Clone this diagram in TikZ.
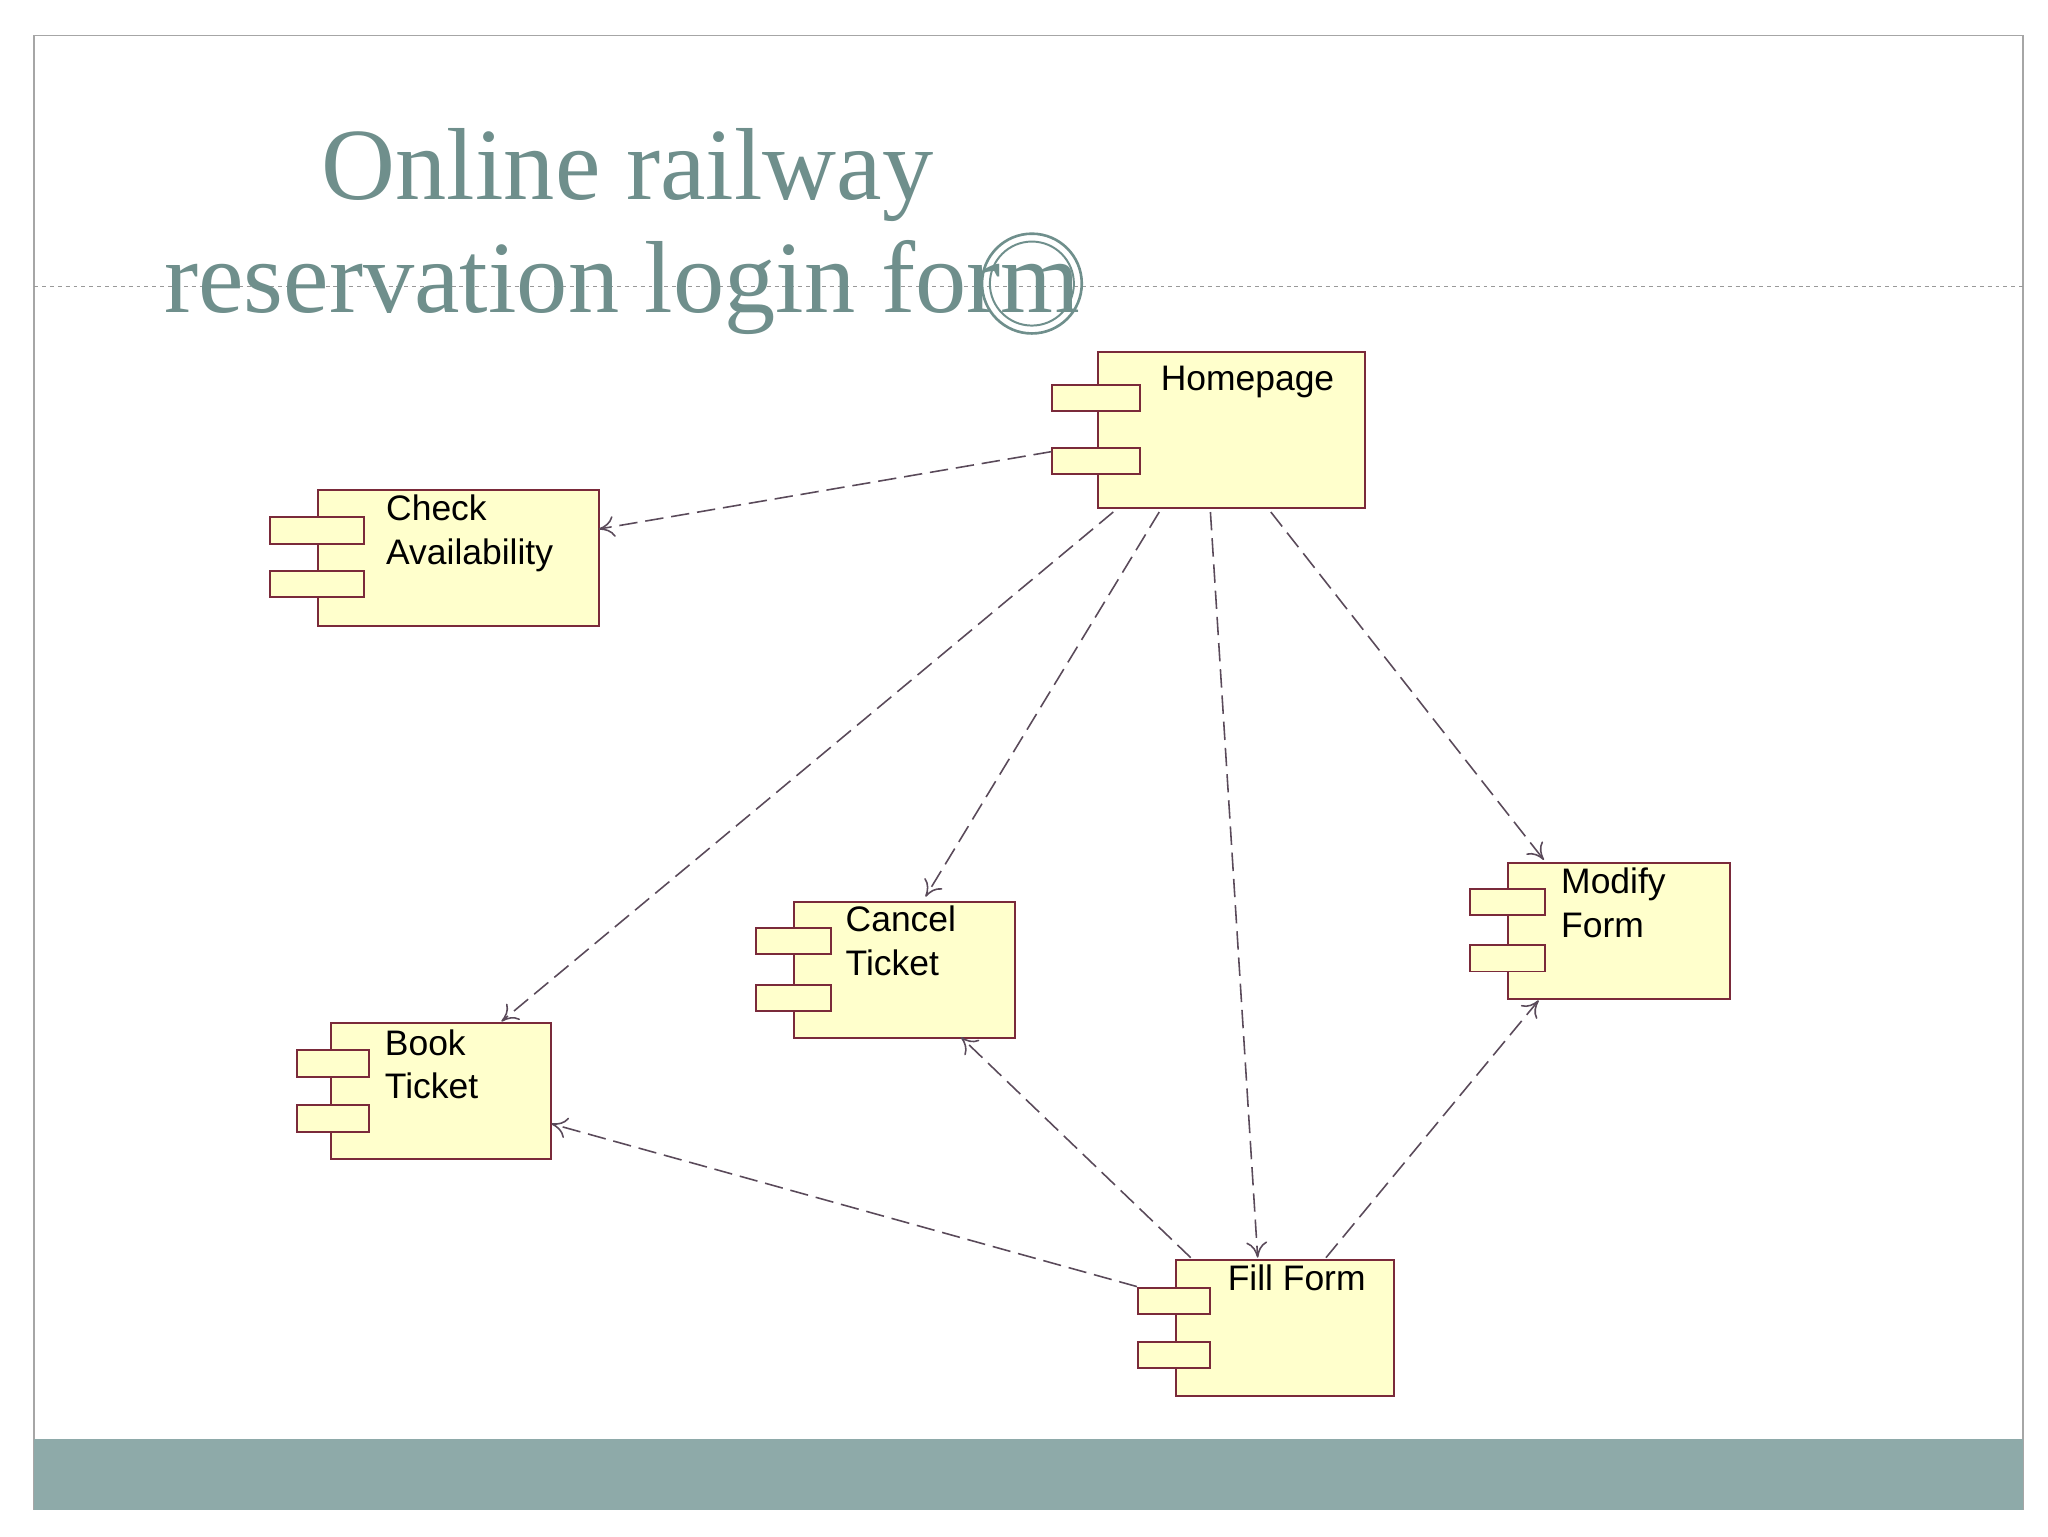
\documentclass[tikz,border=0pt]{standalone}
\usepackage{fontspec}
\usetikzlibrary{arrows.meta}
\setmainfont{Liberation Serif}
\newfontfamily\lab{Liberation Sans}
\definecolor{teal}{HTML}{6F8F8C}
\definecolor{bar}{HTML}{8EAAA9}
\definecolor{cfill}{HTML}{FFFFCC}
\definecolor{cline}{HTML}{7A2A3A}
\definecolor{arr}{HTML}{5A4A5A}
\begin{document}
\begin{tikzpicture}[x=1pt,y=-1pt,
  mainbox/.style={draw=cline,fill=cfill,line width=1.5pt},
  port/.style={draw=cline,fill=cfill,line width=1.5pt},
  lbl/.style={font=\lab\fontsize{27}{33}\selectfont,anchor=north west,align=left,inner sep=0pt},
  dep/.style={draw=arr,line width=1.2pt,dash pattern=on 14pt off 6pt,-{To[length=12pt,width=16pt]}}]
\useasboundingbox (0,0) rectangle (1560,1170);
\fill[white] (0,0) rectangle (1560,1170);
\draw[gray!70,line width=1pt] (26,27) rectangle (1541,1150);
\fill[bar] (26,1096) rectangle (1541,1150);
\draw[gray!80,dashed,line width=0.8pt] (26,218) -- (1541,218);
\node[teal,font=\fontsize{78}{90}\selectfont,anchor=base] (t1) at (478,152) {Online railway};
\node[teal,font=\fontsize{78}{90}\selectfont,anchor=base west,inner sep=0pt] (t2) at (125,238) {reservation login form};
\draw[teal,line width=2pt] (786,216) circle (38);
\draw[teal,line width=1.5pt] (786,216) circle (32);
% components
\newcommand\comp[9]{%
 \draw[mainbox] (#2,#3) rectangle (#4,#5);
 \draw[port] (#6,#8) rectangle (#7,#8+20);
 \draw[port] (#6,#9) rectangle (#7,#9+20);
}
\comp{hp}{836}{268}{1040}{387}{801}{868}{293}{341}
\node[lbl] (hp) at (884,279) {Homepage};
\comp{ca}{242}{373}{456}{477}{206}{277}{394}{435}
\node[lbl] (ca) at (294,377) {Check\\Availability};
\comp{ct}{605}{687}{773}{791}{576}{633}{707}{750}
\node[lbl] (ct) at (644,690) {Cancel\\Ticket};
\comp{mf}{1149}{657}{1318}{761}{1120}{1177}{677}{720}
\node[lbl] (mf) at (1189,661) {Modify\\Form};
\comp{bt}{252}{779}{420}{883}{226}{281}{800}{842}
\node[lbl] (bt) at (293,784) {Book\\Ticket};
\comp{ff}{896}{960}{1062}{1063}{867}{922}{981}{1022}
\node[lbl] (ff) at (935,963) {Fill Form};
% connector endpoints
\coordinate (h1) at (801,344); \coordinate (c1) at (456,403);
\coordinate (h2) at (848,390); \coordinate (b1) at (382,778);
\coordinate (h3) at (883,390); \coordinate (k1) at (705,683);
\coordinate (h4) at (922,390); \coordinate (f1) at (958,958);
\coordinate (h5) at (968,390); \coordinate (m1) at (1176,655);
\coordinate (f2) at (907,958); \coordinate (k2) at (732,790);
\coordinate (f3) at (866,980); \coordinate (b2) at (420,856);
\coordinate (f4) at (1010,958); \coordinate (m2) at (1172,762);
\draw[dep] (h1) -- (c1);
\draw[dep] (h2) -- (b1);
\draw[dep] (h3) -- (k1);
\draw[dep] (h4) -- (f1);
\draw[dep] (h5) -- (m1);
\draw[dep] (f2) -- (k2);
\draw[dep] (f3) -- (b2);
\draw[dep] (f4) -- (m2);
\end{tikzpicture}
\end{document}
